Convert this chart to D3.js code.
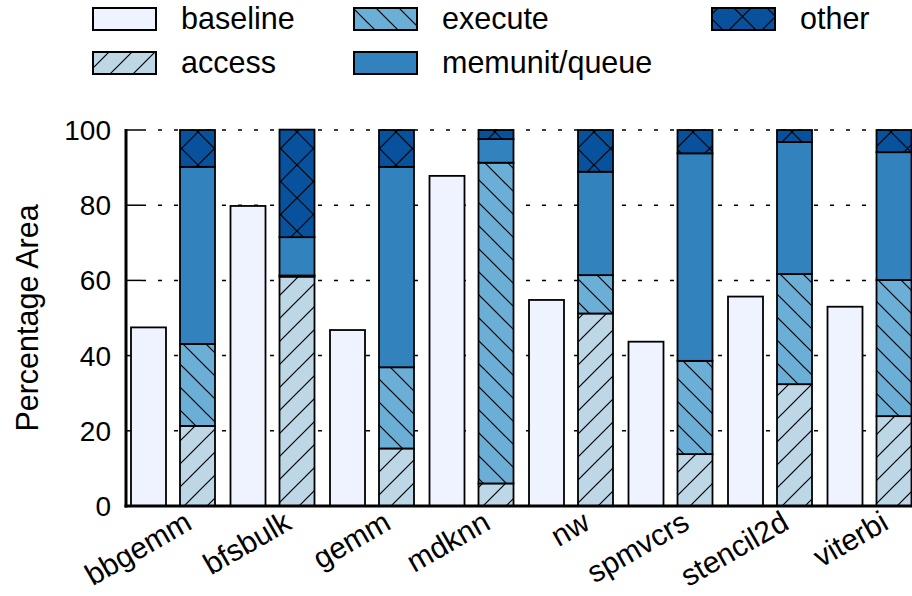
<!DOCTYPE html>
<html><head><meta charset="utf-8">
<script src="https://cdn.jsdelivr.net/npm/d3@7"></script>
<style>
html,body{margin:0;padding:0;background:#fff;}
text{font-family:"Liberation Sans",Arial,Helvetica,sans-serif;fill:#000;}
</style></head>
<body><svg id="chart" width="912" height="596"></svg>
<script>
const categories = ["bbgemm","bfsbulk","gemm","mdknn","nw","spmvcrs","stencil2d","viterbi"];
const baseline = [47.5, 79.8, 46.8, 87.8, 54.8, 43.7, 55.7, 53.0];
const access   = [21.3, 61.0, 15.3, 6.0, 51.2, 13.8, 32.4, 23.9];
const execute  = [21.8, 0.3, 21.6, 85.3, 10.2, 24.8, 29.3, 36.2];
const memunit  = [47.1, 10.2, 53.3, 6.3, 27.5, 55.2, 35.1, 34.0];
const other    = [9.8, 28.6, 9.8, 2.4, 11.1, 6.2, 3.2, 5.9];
const yTicks = [0, 20, 40, 60, 80, 100];
const seriesNames = ["access","execute","memunit/queue","other"];
const legendNames = ["baseline","access","execute","memunit/queue","other"];

const colors = {"baseline":"#eff3ff","access":"#bdd7e7","execute":"#6baed6","memunit/queue":"#3182bd","other":"#08519c"};
const hatch = {"baseline":null,"access":"/","execute":"\\","memunit/queue":null,"other":"x"};

const svg = d3.select("#chart");
const defs = svg.append("defs");
function makePattern(id, color, type){
  const p = type === "x" ? 33 : 23;
  const pat = defs.append("pattern").attr("id", id).attr("patternUnits","userSpaceOnUse")
    .attr("width", p).attr("height", p);
  pat.append("rect").attr("width", p).attr("height", p).attr("fill", color);
  const ln = (x1,y1,x2,y2)=>pat.append("line").attr("x1",x1).attr("y1",y1).attr("x2",x2).attr("y2",y2)
    .attr("stroke","#000").attr("stroke-width",1.2);
  if (type === "/" || type === "x"){ ln(-1,p+1,p+1,-1); ln(-p/2-1,p/2+1,p/2+1,-p/2-1); ln(p/2-1,p*1.5+1,p*1.5+1,p/2-1); }
  if (type === "\\" || type === "x"){ ln(-1,-1,p+1,p+1); ln(p/2-1,-p/2-1,p*1.5+1,p/2+1); ln(-p/2-1,p/2-1,p/2+1,p*1.5+1); }
}
const fillOf = {};
legendNames.forEach((n,i)=>{
  if (hatch[n]) { makePattern("pat"+i, colors[n], hatch[n]); fillOf[n] = "url(#pat"+i+")"; }
  else fillOf[n] = colors[n];
});

const pLeft = 126, pRight = 912, pTop = 130, pBottom = 506;
const y = d3.scaleLinear().domain([0,100]).range([pBottom, pTop]);
const x0 = d3.scaleBand().domain(categories).range([126, 922]).paddingInner(0).paddingOuter(0);
const x1 = d3.scaleBand().domain(["baseline","design"]).range([5, 89]).paddingInner(14/49).paddingOuter(0);

// grid
svg.append("g").selectAll("line").data(yTicks.filter(d=>d>0)).join("line")
  .attr("x1", pLeft+16).attr("x2", pRight).attr("y1", d=>y(d)).attr("y2", d=>y(d))
  .attr("stroke","#000").attr("stroke-width",1.5).attr("stroke-dasharray","4,12");
// inward ticks
svg.append("g").selectAll("line").data(yTicks).join("line")
  .attr("x1", pLeft).attr("x2", pLeft+16).attr("y1", d=>y(d)).attr("y2", d=>y(d))
  .attr("stroke","#000").attr("stroke-width",1.5);

// baseline bars
svg.append("g").selectAll("rect").data(categories).join("rect")
  .attr("x", c=>x0(c)+x1("baseline")).attr("width", x1.bandwidth())
  .attr("y", (c,i)=>y(baseline[i])).attr("height", (c,i)=>y(0)-y(baseline[i]))
  .attr("fill", fillOf["baseline"]).attr("stroke","#000").attr("stroke-width",1.8);

// stacked bars
const rows = categories.map((c,i)=>({cat:c, "access":access[i], "execute":execute[i], "memunit/queue":memunit[i], "other":other[i]}));
const stack = d3.stack().keys(seriesNames)(rows);
stack.forEach(layer=>{
  svg.append("g").selectAll("rect").data(layer).join("rect")
    .attr("x", d=>x0(d.data.cat)+x1("design")).attr("width", x1.bandwidth())
    .attr("y", d=>y(d[1])).attr("height", d=>y(d[0])-y(d[1]))
    .attr("fill", fillOf[layer.key]).attr("stroke","#000").attr("stroke-width",1.8);
});

// axes lines
svg.append("line").attr("x1",pLeft).attr("x2",pLeft).attr("y1",pTop-1).attr("y2",pBottom+1.5).attr("stroke","#000").attr("stroke-width",3);
svg.append("line").attr("x1",pLeft-1.5).attr("x2",pRight).attr("y1",pBottom).attr("y2",pBottom).attr("stroke","#000").attr("stroke-width",3);

// y labels
svg.append("g").selectAll("text").data(yTicks).join("text")
  .attr("x", 111).attr("y", d=>y(d)+10).attr("text-anchor","end").attr("font-size",28).text(d=>d);
svg.append("text").attr("transform","translate(38,318) rotate(-90)").attr("text-anchor","middle")
  .attr("font-size",30.5).text("Percentage Area");

// x labels
svg.append("g").selectAll("text").data(categories).join("text")
  .attr("transform", c=>`translate(${x0(c)+x0.bandwidth()/2+18},${pBottom+22}) rotate(-30)`)
  .attr("text-anchor","end").attr("font-size",30).text(c=>c);

// legend
const legPos = {"baseline":[93,8],"access":[93,52],"execute":[354,8],"memunit/queue":[354,52],"other":[712,8]};
legendNames.forEach(n=>{
  const [lx,ly] = legPos[n];
  svg.append("rect").attr("x",lx).attr("y",ly).attr("width",63).attr("height",22)
    .attr("fill",fillOf[n]).attr("stroke","#000").attr("stroke-width",2);
  svg.append("text").attr("x",lx+88).attr("y",ly+21).attr("font-size",30.5).text(n);
});
</script></body></html>
